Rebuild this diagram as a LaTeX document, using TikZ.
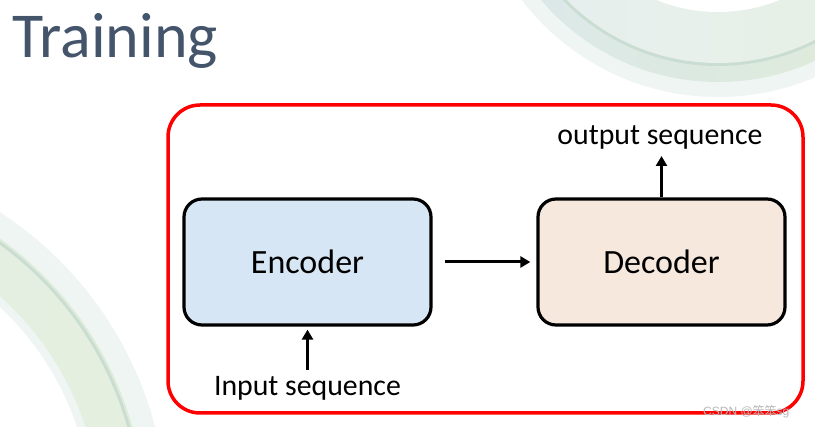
\documentclass[tikz,border=0pt]{standalone}
\usepackage{fontspec}
\setmainfont{Carlito}
\newfontfamily\cjkfont{Noto Sans CJK SC}
\newfontfamily\wmfont{Liberation Sans}
\usetikzlibrary{arrows.meta}
\definecolor{titlegray}{HTML}{44546A}
\definecolor{encfill}{HTML}{D7E6F4}
\definecolor{decfill}{HTML}{F6E8DD}
\definecolor{bandblue}{HTML}{DCE8EA}
\definecolor{bandgreen}{HTML}{DDEBD6}
\definecolor{bandlight}{HTML}{EFF5F2}
\definecolor{bandline}{HTML}{CADDD2}
\tikzset{
  blockbox/.style={draw=black, line width=3.2pt, rounded corners=18pt, minimum width=247pt, minimum height=126pt, inner sep=0pt, font=\fontsize{34}{38}\selectfont},
  label/.style={inner sep=0pt, font=\fontsize{29.8}{34}\selectfont},
  flowarrow/.style={line width=3pt, -{Triangle[length=10pt,width=11pt]}},
}
\begin{document}
\begin{tikzpicture}[x=1pt,y=-1pt]
\useasboundingbox (0,0) rectangle (815,427);
\fill[white] (0,0) rectangle (815,427);
% decorative arcs top right
\begin{scope}
\clip (0,0) rectangle (815,427);
\fill[bandlight] (718,-150) circle (247);
\shade[left color=bandblue, right color=bandgreen, even odd rule] (718,-150) circle (232) (718,-150) circle (162);
\fill[bandline] (718,-150) circle (216);
\shade[left color=bandblue!70!white, right color=bandgreen!70!white] (718,-150) circle (213);
\fill[white] (718,-150) circle (162);
% left arcs
\fill[bandlight] (-200,520) circle (367);
\shade[left color=bandblue, right color=bandgreen] (-200,520) circle (345);
\fill[bandline] (-200,520) circle (343);
\shade[left color=bandblue!80!white, right color=bandgreen!80!white] (-200,520) circle (340);
\fill[bandlight] (-200,520) circle (300);
\fill[white] (-200,520) circle (292);
\end{scope}
% title
\node[anchor=base west, inner sep=0pt, text=titlegray, font=\fontsize{64}{70}\selectfont] (title) at (12,58) {Training};
% frame
\draw[red, line width=3.5pt, rounded corners=32pt, fill=white] (168,105) rectangle (803,413);
% blocks
\node[blockbox, fill=encfill] (enc) at (307.5,262) {Encoder};
\node[blockbox, fill=decfill] (dec) at (661.5,262) {Decoder};
\node[label, anchor=base] (inp) at (307.5,396) {Input sequence};
\node[label, anchor=base] (outp) at (660,145) {output sequence};
% arrows
\draw[flowarrow, shorten <=12pt, shorten >=6pt] (enc.east) -- (dec.west);
\draw[flowarrow, shorten <=3pt, shorten >=3pt] (inp.north -| enc.south) ++(0,-4) coordinate (inptop) -- (enc.south);
\draw[flowarrow, shorten >=6pt] (dec.north) -- (dec.north |- outp.south);
% watermark
\node[anchor=base west, inner sep=0pt, text=black!28, font=\wmfont\fontsize{12}{14}\selectfont] (wm) at (703,416) {CSDN @{\cjkfont 笨笨}sg};
\end{tikzpicture}
\end{document}
